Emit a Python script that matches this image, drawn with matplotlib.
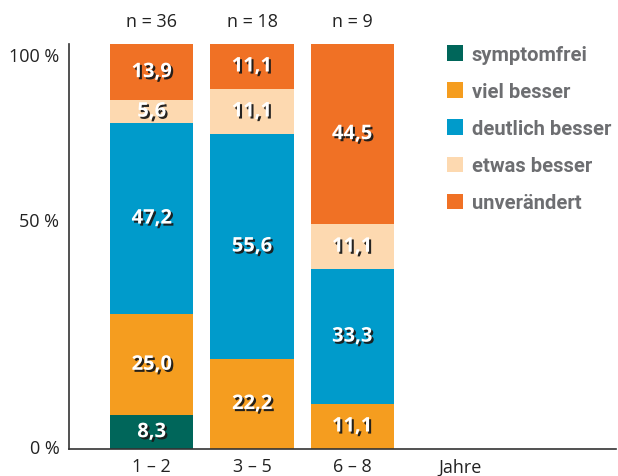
import matplotlib
matplotlib.use("Agg")
import matplotlib.pyplot as plt
import matplotlib.patheffects as pe
from matplotlib.patches import Patch
import numpy as np

plt.rcParams["font.family"] = ["Open Sans", "DejaVu Sans"]

# data
groups = ["1 – 2", "3 – 5", "6 – 8"]
sample_sizes = ["n = 36", "n = 18", "n = 9"]
categories = ["symptomfrei", "viel besser", "deutlich besser", "etwas besser", "unverändert"]
symptomfrei = [8.3, 0.0, 0.0]
viel_besser = [25.0, 22.2, 11.1]
deutlich_besser = [47.2, 55.6, 33.3]
etwas_besser = [5.6, 11.1, 11.1]
unveraendert = [13.9, 11.1, 44.5]
series = [symptomfrei, viel_besser, deutlich_besser, etwas_besser, unveraendert]
ytick_labels = ["0 %", "50 %", "100 %"]

colors = ["#00665a", "#f59d1f", "#009bcb", "#fdd9b0", "#f07125"]
gray = "#6d6e71"

fig = plt.figure(figsize=(6.18, 4.77), dpi=100)
ax = fig.add_axes([0.1117, 0.0566, 0.885, 0.849])

x = np.arange(len(groups))
bottom = np.zeros(len(groups))
shadow = [pe.SimplePatchShadow(offset=(1.5, -1.5), shadow_rgbFace="#1a1a1a", alpha=0.95), pe.Normal()]
for vals, col in zip(series, colors):
    vals = np.array(vals)
    ax.bar(x, vals, width=0.83, bottom=bottom, color=col, linewidth=0)
    for xi, b, v in zip(x, bottom, vals):
        if v > 0:
            ax.text(xi, b + v / 2, f"{v:.1f}".replace(".", ","), ha="center", va="center",
                    color="white", fontsize=14.5, fontweight="bold", path_effects=shadow)
    bottom += vals

for xi, n in zip(x, sample_sizes):
    ax.text(xi, 1.057, n, transform=ax.get_xaxis_transform(), ha="center", va="center",
            fontsize=13, color="#222222")

ax.set_xlim(-0.825, 4.63)
ax.set_ylim(0, 100)
ax.set_xticks(list(x) + [3.08])
ax.set_xticklabels(groups + ["Jahre"], fontsize=13, color="#222222")
# label positions follow the reference layout (labels sit a bit off the gridline values)
ax.set_yticks([0.8, 56.8, 97.5])
ax.set_yticklabels(ytick_labels, fontsize=13, color="#222222")
ax.tick_params(length=0, pad=6)
ax.tick_params(axis="y", pad=7)
for s in ["top", "right"]:
    ax.spines[s].set_visible(False)
for s in ["left", "bottom"]:
    ax.spines[s].set_color("#333333")
    ax.spines[s].set_linewidth(1.2)

handles = [Patch(facecolor=c, edgecolor="none") for c in colors]
leg = fig.legend(handles, categories, loc="upper left", bbox_to_anchor=(0.707, 0.925),
                 frameon=False, borderpad=0, handlelength=0.8, handleheight=0.8, handletextpad=0.42,
                 labelspacing=0.9, prop={"family": "Roboto", "weight": "bold", "size": 14.5})
for t in leg.get_texts():
    t.set_color(gray)

fig.savefig("out.png", dpi=100)
